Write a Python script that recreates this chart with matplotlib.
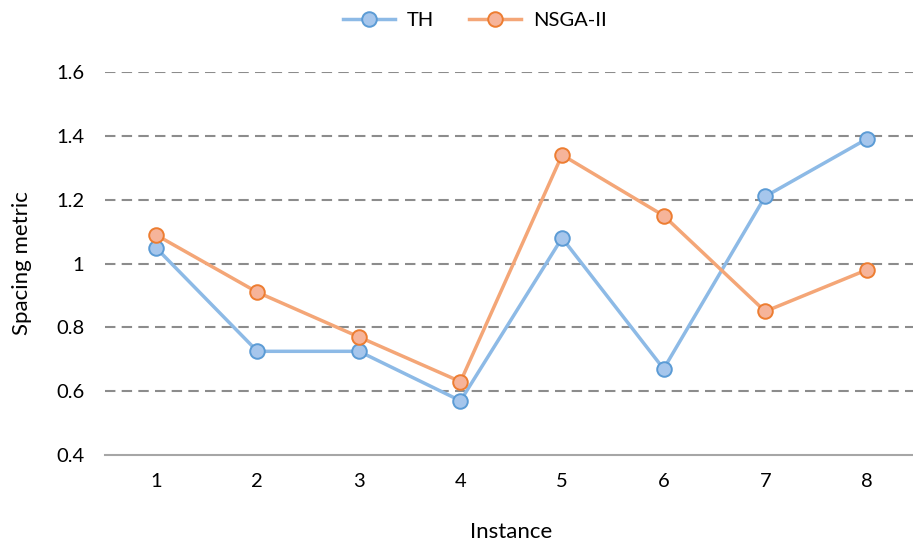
import matplotlib.pyplot as plt
import numpy as np

instances = ['1', '2', '3', '4', '5', '6', '7', '8']
th_values = [1.05, 0.725, 0.725, 0.57, 1.08, 0.67, 1.21, 1.39]
nsga_values = [1.09, 0.91, 0.77, 0.63, 1.34, 1.15, 0.85, 0.98]
y_ticks = [0.4, 0.6, 0.8, 1.0, 1.2, 1.4, 1.6]
y_tick_labels = ['0.4', '0.6', '0.8', '1', '1.2', '1.4', '1.6']

plt.rcParams['font.family'] = ['Lato', 'DejaVu Sans']

fig = plt.figure(figsize=(9.13, 5.45), dpi=100)
ax = fig.add_axes([0.115, 0.165, 0.890, 0.703])

x = np.arange(len(instances))
ax.plot(x, th_values, color='#8DBAE6', lw=2.5, marker='o', ms=10.5,
        mfc='#A6C6EC', mec='#5B9BD5', mew=1.4, label='TH', zorder=3)
ax.plot(x, nsga_values, color='#F4A677', lw=2.5, marker='o', ms=10.5,
        mfc='#F6B49A', mec='#ED7D31', mew=1.4, label='NSGA-II', zorder=3)

ax.set_xlim(-0.5, len(instances) - 0.5)
ax.set_ylim(0.4, 1.6)
ax.set_xticks(x)
ax.set_xticklabels(instances)
ax.set_yticks(y_ticks)
ax.set_yticklabels(y_tick_labels)
ax.tick_params(axis='both', length=0, labelsize=14.5, colors='#000000')
ax.tick_params(axis='y', pad=15)
ax.tick_params(axis='x', pad=13)

# dashed horizontal guides above the baseline
for val in y_ticks[1:]:
    ax.axhline(val, color='#8C8C8C', lw=1.5, ls=(0, (5, 3)), zorder=1)

for side in ['top', 'right', 'left']:
    ax.spines[side].set_visible(False)
ax.spines['bottom'].set_color('#A6A6A6')
ax.spines['bottom'].set_linewidth(1.5)

ax.set_xlabel('Instance', fontsize=16, labelpad=23)
ax.set_ylabel('Spacing metric', fontsize=16, labelpad=17)

fig.legend(loc='upper center', bbox_to_anchor=(0.52, 1.012), ncol=2, frameon=False,
           fontsize=14.5, handlelength=2.6, columnspacing=1.7, handletextpad=0.6)

fig.savefig('out.png', dpi=100)
